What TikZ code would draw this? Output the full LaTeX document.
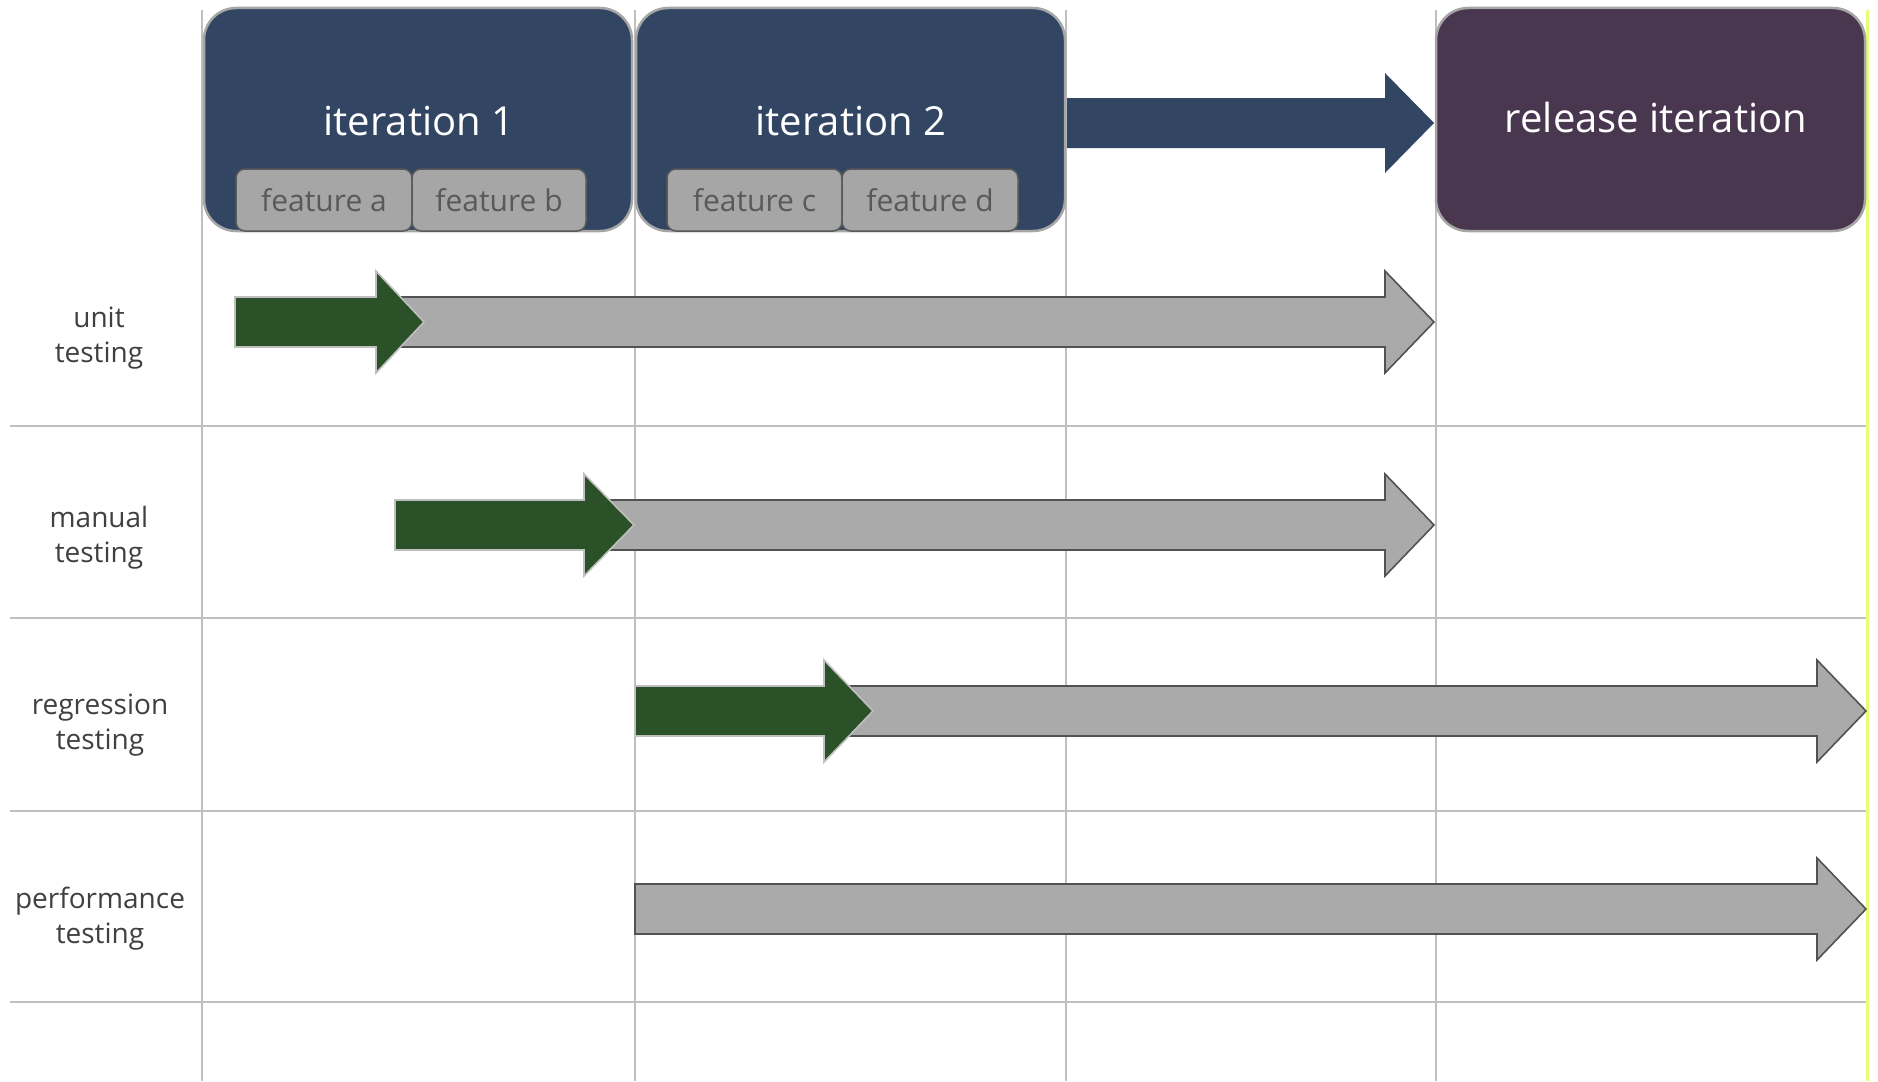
\documentclass[tikz,border=0pt]{standalone}
\usepackage{fontspec}
\setmainfont{Open Sans}
\definecolor{gridc}{HTML}{BFBFBF}
\definecolor{itblue}{HTML}{324563}
\definecolor{relpurple}{HTML}{48374F}
\definecolor{featfill}{HTML}{A6A6A6}
\definecolor{feattext}{HTML}{595959}
\definecolor{labtext}{HTML}{404040}
\definecolor{arrgray}{HTML}{AAAAAA}
\definecolor{arrgreen}{HTML}{2B5129}
\definecolor{yel}{HTML}{E6FF7A}
\newcommand\blkarrow[5]{%
  \draw[#5] (#1,#4-25) -- (#2,#4-25) -- (#2,#4-51) -- (#3,#4) -- (#2,#4+51) -- (#2,#4+25) -- (#1,#4+25) -- cycle;}
\tikzset{
  grid line/.style={draw=gridc, line width=2.2pt},
  itbox/.style={draw=featfill, line width=2.5pt, rounded corners=32pt, inner sep=0pt},
  featbox/.style={draw=black!65, line width=1.5pt, fill=featfill, rounded corners=9pt,
     minimum height=62pt, inner sep=0pt, text=feattext, font=\fontsize{30}{34}\selectfont},
  itlabel/.style={text=white, font=\fontsize{40}{46}\selectfont, anchor=base, inner sep=0pt},
  rowlabel/.style={text=labtext, font=\fontsize{28}{35}\selectfont, align=center, inner sep=0pt},
  grayarrow/.style={fill=arrgray, draw=black!68, line width=1.6pt, line join=miter},
  greenarrow/.style={fill=arrgreen, draw=gridc, line width=1.6pt, line join=miter},
  bluearrow/.style={fill=itblue, draw=none},
}
\begin{document}
\begin{tikzpicture}[x=1pt,y=-1pt]
\useasboundingbox[fill=white] (0,0) rectangle (1878,1081);
% grid
\foreach \x in {202,635,1066,1436}
  \draw[grid line] (\x,10) -- (\x,1081);
\foreach \y in {426,618,811,1002}
  \draw[grid line] (10,\y) -- (1866,\y);
\draw[draw=yel, line width=3pt] (1867,10) -- (1867,1081);
% iteration boxes
\node[itbox, fill=itblue, minimum width=428pt, minimum height=223pt] (it1) at (418,119.5) {};
\node[itbox, fill=itblue, minimum width=429pt, minimum height=223pt] (it2) at (850.5,119.5) {};
\node[itbox, fill=relpurple, minimum width=429pt, minimum height=223pt] (rel) at (1650.5,119.5) {};
\node[itlabel] (it1t) at (419,135) {iteration 1};
\node[itlabel] (it2t) at (851,135) {iteration 2};
\node[itlabel] (relt) at (1656,132.5) {release iteration};
% features
\node[featbox, minimum width=176pt] (fa) at (324,200) {feature a};
\node[featbox, minimum width=174pt] (fb) at (499,200) {feature b};
\node[featbox, minimum width=175pt] (fc) at (754.5,200) {feature c};
\node[featbox, minimum width=176pt] (fd) at (930,200) {feature d};
% top arrow
\draw[bluearrow] (1067,98) -- (1385,98) -- (1385,73) -- (1434,123) -- (1385,173) -- (1385,148) -- (1067,148) -- cycle;
% row labels
\node[rowlabel] (lu) at (99,338) {unit\\testing};
\node[rowlabel] (lm) at (99,538) {manual\\testing};
\node[rowlabel] (lr) at (100,725) {regression\\testing};
\node[rowlabel] (lp) at (100,919) {performance\\testing};
% gray arrows
\blkarrow{300}{1385}{1434}{322}{grayarrow}
\blkarrow{600}{1385}{1434}{525}{grayarrow}
\blkarrow{700}{1817}{1866}{711}{grayarrow}
\blkarrow{635}{1817}{1866}{909}{grayarrow}
% green arrows
\blkarrow{235}{376}{424}{322}{greenarrow}
\blkarrow{395}{584}{634}{525}{greenarrow}
\blkarrow{635}{824}{873}{711}{greenarrow}
\end{tikzpicture}
\end{document}
